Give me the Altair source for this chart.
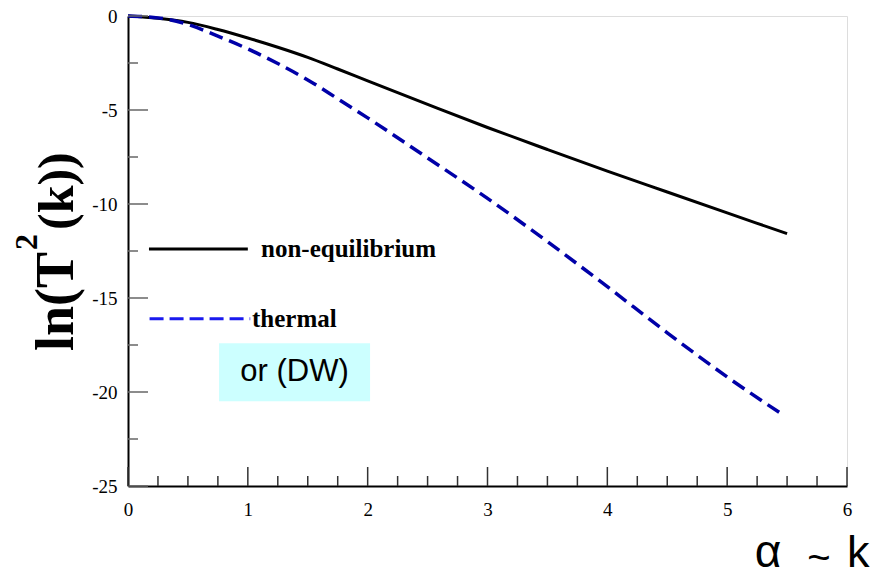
import altair as alt
import pandas as pd

# ---- data ----
x_neq = [0, 0.25, 0.5, 0.75, 1.0, 1.25, 1.5, 1.75, 2.0, 2.5, 3.0, 3.5, 4.0, 4.5, 5.0, 5.5]
y_neq = [0, -0.12, -0.34, -0.72, -1.17, -1.66, -2.2, -2.82, -3.45, -4.7, -5.93, -7.1, -8.25,
         -9.36, -10.47, -11.58]
x_th = [0, 0.25, 0.5, 0.75, 1.0, 1.25, 1.5, 1.75, 2.0, 2.5, 3.0, 3.5, 4.0, 4.5, 5.0, 5.45]
y_th = [0, -0.1, -0.45, -1.07, -1.75, -2.53, -3.4, -4.4, -5.42, -7.55, -9.7, -12.0, -14.4,
        -16.85, -19.2, -21.15]

x_major = [0, 1, 2, 3, 4, 5, 6]
x_minor = [0.25, 0.5, 0.75, 1.25, 1.5, 1.75, 2.25, 2.5, 2.75, 3.25, 3.5, 3.75,
           4.25, 4.5, 4.75, 5.25, 5.5, 5.75]
y_major = [0, -5, -10, -15, -20, -25]
y_minor = [-2.5, -7.5, -12.5, -17.5, -22.5]

legend_labels = ["non-equilibrium", "thermal"]
legend_x0 = [0.175, 0.18]
legend_x1 = [1.0, 1.02]
legend_y = [-12.4, -16.1]
legend_text_x = [1.11, 1.035]

box_x = [0.76, 2.02]
box_y = [-17.41, -20.49]
box_label = "or (DW)"

W, H = 719, 470

xs = alt.Scale(domain=[0, 6], nice=False, zero=False)
ys = alt.Scale(domain=[-25, 0], nice=False, zero=False)
xaxis = alt.Axis(values=x_major, ticks=False, tickSize=0, domainColor="black", domainWidth=2,
                 labelFont="Liberation Serif", labelFontSize=19, labelPadding=14,
                 labelColor="black", grid=False, title=None, labelExpr="'' + datum.value",
                 labelFlush=False)
yaxis = alt.Axis(values=y_major, ticks=False, tickSize=0, domainColor="black", domainWidth=2,
                 labelFont="Liberation Serif", labelFontSize=19, labelPadding=11,
                 labelColor="black", grid=False, title=None, labelExpr="'' + datum.value",
                 labelFlush=False)


def X(f):
    return alt.X(f"{f}:Q", scale=xs, axis=xaxis)


def Y(f):
    return alt.Y(f"{f}:Q", scale=ys, axis=yaxis)


neq_df = pd.DataFrame({"x": x_neq, "y": y_neq})
th_df = pd.DataFrame({"x": x_th, "y": y_th})

box = alt.Chart(pd.DataFrame({"x0": [box_x[0]], "x1": [box_x[1]],
                              "y0": [box_y[0]], "y1": [box_y[1]]})).mark_rect(
    color="#ccffff").encode(x=X("x0"), x2="x1", y=Y("y0"), y2="y1")

box_text = alt.Chart(pd.DataFrame({"x": [(box_x[0] + box_x[1]) / 2],
                                   "y": [(box_y[0] + box_y[1]) / 2],
                                   "t": [box_label]})).mark_text(
    font="Liberation Sans", fontSize=31, align="center", baseline="middle", color="black"
).encode(x=X("x"), y=Y("y"), text="t:N")

line_neq = alt.Chart(neq_df).mark_line(color="black", strokeWidth=3, interpolate="monotone").encode(
    x=X("x"), y=Y("y"))
line_th = alt.Chart(th_df).mark_line(color="#0000a8", strokeWidth=3.5, strokeDash=[14, 7],
                                     interpolate="monotone").encode(x=X("x"), y=Y("y"))

leg_df = pd.DataFrame({"label": legend_labels, "x0": legend_x0, "x1": legend_x1,
                       "y": legend_y, "tx": legend_text_x})
leg_neq = alt.Chart(leg_df.iloc[[0]]).mark_rule(color="black", strokeWidth=3).encode(
    x=X("x0"), x2="x1", y=Y("y"))
leg_th = alt.Chart(leg_df.iloc[[1]]).mark_rule(color="#1a1aee", strokeWidth=3, strokeDash=[14, 6]).encode(
    x=X("x0"), x2="x1", y=Y("y"))
leg_text = alt.Chart(leg_df).mark_text(font="Liberation Serif", fontWeight="bold", fontSize=25,
                                       align="left", baseline="middle", color="black").encode(
    x=X("tx"), y=Y("y"), text="label:N")

# inward ticks
ytm = alt.Chart(pd.DataFrame({"v": y_major})).mark_rule(color="#666", strokeWidth=1.5).encode(
    y=Y("v"), x=alt.value(0), x2=alt.value(20))
ytn = alt.Chart(pd.DataFrame({"v": y_minor})).mark_rule(color="#666", strokeWidth=1.5).encode(
    y=Y("v"), x=alt.value(0), x2=alt.value(10))
xtm = alt.Chart(pd.DataFrame({"v": x_major})).mark_rule(color="#333", strokeWidth=1.5).encode(
    x=X("v"), y=alt.value(H), y2=alt.value(H - 19))
xtn = alt.Chart(pd.DataFrame({"v": x_minor})).mark_rule(color="#333", strokeWidth=1.5).encode(
    x=X("v"), y=alt.value(H), y2=alt.value(H - 10))

one = pd.DataFrame({"a": [0]})


def txt(s, x, y, **kw):
    return alt.Chart(one).mark_text(**kw).encode(x=alt.value(x), y=alt.value(y), text=alt.value(s))


ytitle = [
    txt("ln(T", -55, 335, angle=270, align="left", baseline="alphabetic", font="Liberation Serif",
        fontWeight="bold", fontSize=54, color="black"),
    txt("2", -91, 234, angle=270, align="left", baseline="alphabetic", font="Liberation Serif",
        fontWeight="bold", fontSize=32, color="black"),
    txt("(k))", -55, 214, angle=270, align="left", baseline="alphabetic", font="Liberation Serif",
        fontWeight="bold", fontSize=50, color="black"),
]
xtitle = [
    txt("α", 640, 551, align="center", baseline="alphabetic", font="Liberation Sans", fontSize=46,
        color="black"),
    txt("~", 691, 555, align="center", baseline="alphabetic", font="Liberation Sans", fontSize=40,
        color="black"),
    txt("k", 719, 551, align="left", baseline="alphabetic", font="Liberation Sans", fontSize=45,
        color="black"),
]

chart = alt.layer(box, box_text, line_neq, line_th, leg_neq, leg_th, leg_text,
                  ytm, ytn, xtm, xtn, *ytitle, *xtitle).properties(
    width=W, height=H,
    padding={"left": 120, "top": 8, "right": 24, "bottom": 84},
    autosize=alt.AutoSizeParams(type="none"),
).configure_view(stroke="#777", strokeWidth=1).configure(background="white")

chart.save("out.html", embed_options={"renderer": "svg", "actions": False})
